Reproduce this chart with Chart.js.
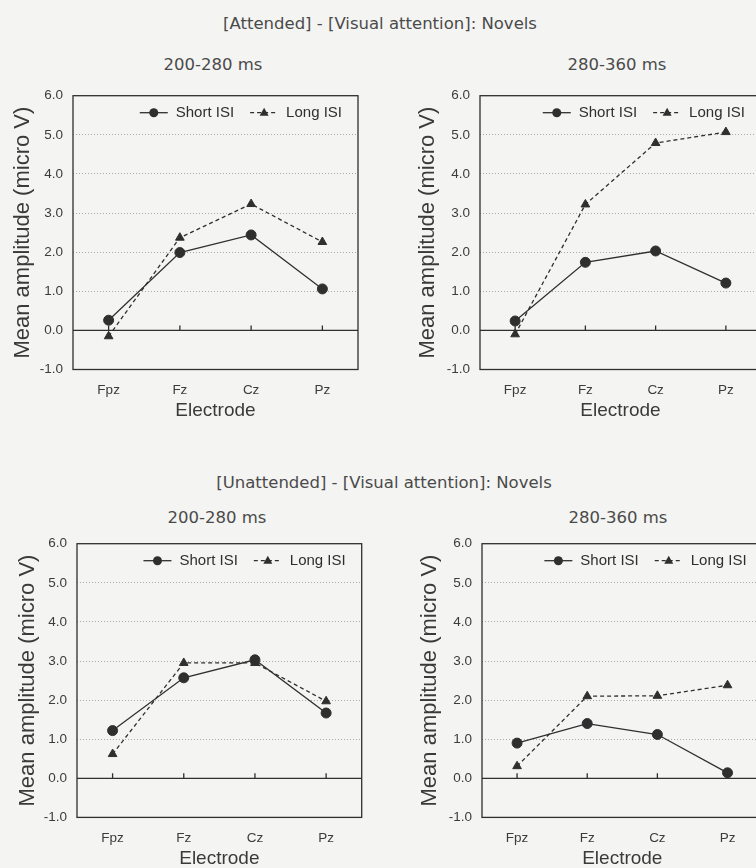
<!DOCTYPE html>
<html>
<head>
<meta charset="utf-8">
<script src="https://cdn.jsdelivr.net/npm/chart.js@4.4.1/dist/chart.umd.min.js"></script>
<style>
body{margin:0;width:756px;height:868px;overflow:hidden;background:#f4f4f2;position:relative}
.t{position:absolute;color:#4a4a4a;font-family:"DejaVu Sans";font-size:16.5px;white-space:nowrap;transform:translate(-50%,-50%)}
canvas{position:absolute}
</style>
</head>
<body>
<div class="t" style="left:380px;top:23px">[Attended] - [Visual attention]: Novels</div>
<div class="t" style="left:213px;top:64px">200-280 ms</div>
<div class="t" style="left:617px;top:64px">280-360 ms</div>
<div class="t" style="left:384px;top:482px">[Unattended] - [Visual attention]: Novels</div>
<div class="t" style="left:217px;top:517px">200-280 ms</div>
<div class="t" style="left:618px;top:517px">280-360 ms</div>

<script>
const electrodes = ['Fpz', 'Fz', 'Cz', 'Pz']
const seriesNames = ['Short ISI', 'Long ISI']
const yTicks = [-1, 0, 1, 2, 3, 4, 5, 6]

// [Attended] - [Visual attention]
const att200Short = [0.26, 1.99, 2.44, 1.06]
const att200Long = [-0.15, 2.37, 3.23, 2.26]
const att280Short = [0.24, 1.74, 2.03, 1.21]
const att280Long = [-0.10, 3.22, 4.79, 5.07]

// [Unattended] - [Visual attention]
const unatt200Short = [1.22, 2.57, 3.03, 1.67]
const unatt200Long = [0.62, 2.95, 2.95, 1.97]
const unatt280Short = [0.90, 1.40, 1.12, 0.14]
const unatt280Long = [0.31, 2.10, 2.11, 2.38]

Chart.defaults.font.family = "'Liberation Sans', Arial, sans-serif"
Chart.defaults.color = '#3c3c3c'

const ink = '#2f2f2f'

// box frame, zero line and the little tick marks on it
const framePlugin = {
  id: 'frame',
  beforeDatasetsDraw(chart) {
    let ctx = chart.ctx
    let a = chart.chartArea
    let y0 = chart.scales.y.getPixelForValue(0)
    ctx.save()
    ctx.strokeStyle = ink
    ctx.lineWidth = 1.3
    ctx.strokeRect(a.left, a.top, a.right - a.left, a.bottom - a.top)
    ctx.beginPath()
    ctx.moveTo(a.left, y0)
    ctx.lineTo(a.right, y0)
    electrodes.forEach((e, i) => {
      let x = chart.scales.x.getPixelForValue(i)
      ctx.moveTo(x, y0)
      ctx.lineTo(x, y0 - 5)
    })
    ctx.stroke()
    ctx.restore()
  }
}

// legend inside the plot: line + marker + text
const legendPlugin = {
  id: 'inlegend',
  afterDraw(chart) {
    let ctx = chart.ctx
    let a = chart.chartArea
    let y = a.top + 17
    ctx.save()
    ctx.font = "15px 'Liberation Sans', Arial, sans-serif"
    ctx.textBaseline = 'middle'
    ctx.fillStyle = ink
    ctx.strokeStyle = ink
    ctx.lineWidth = 1.3
    let x = a.right - 16
    let items = chart.data.datasets.slice().reverse()
    items.forEach(ds => {
      let w = ctx.measureText(ds.label).width
      ctx.fillText(ds.label, x - w, y)
      x -= w + 8
      ctx.setLineDash(ds.borderDash || [])
      ctx.beginPath()
      ctx.moveTo(x - 28, y)
      ctx.lineTo(x, y)
      ctx.stroke()
      ctx.setLineDash([])
      let mx = x - 14
      ctx.beginPath()
      if (ds.pointStyle == 'triangle') {
        ctx.moveTo(mx, y - 5)
        ctx.lineTo(mx + 4.5, y + 3)
        ctx.lineTo(mx - 4.5, y + 3)
        ctx.closePath()
      } else {
        ctx.arc(mx, y, 4.5, 0, Math.PI * 2)
      }
      ctx.fill()
      x -= 28 + 16
    })
    ctx.restore()
  }
}

function makeChart(short, long, b) {
  let cv = document.createElement('canvas')
  cv.width = b.w
  cv.height = b.h
  cv.style.left = b.x0 + 'px'
  cv.style.top = b.y0 + 'px'
  document.body.appendChild(cv)

  return new Chart(cv.getContext('2d'), {
    type: 'line',
    data: {
      labels: electrodes,
      datasets: [
        {
          label: seriesNames[0],
          data: short,
          borderColor: ink,
          backgroundColor: ink,
          borderWidth: 1.3,
          pointStyle: 'circle',
          pointRadius: 5,
          pointBorderWidth: 1,
          tension: 0
        },
        {
          label: seriesNames[1],
          data: long,
          borderColor: ink,
          backgroundColor: ink,
          borderWidth: 1.3,
          borderDash: [4, 3],
          pointStyle: 'triangle',
          pointRadius: 5,
          pointBorderWidth: 1,
          tension: 0
        }
      ]
    },
    options: {
      responsive: false,
      animation: false,
      clip: false,
      layout: {
        padding: { left: 0, top: b.T - b.y0, right: b.x0 + b.w - b.R, bottom: 0 }
      },
      plugins: { legend: { display: false }, tooltip: { enabled: false } },
      scales: {
        x: {
          offset: true,
          grid: { display: false, drawTicks: false },
          border: { display: false },
          ticks: { font: { size: 13.5 }, padding: 13, color: '#3c3c3c' },
          title: { display: true, text: 'Electrode', font: { size: 19 }, color: '#3a3a3a', padding: { top: 0, bottom: 4.6 } },
          afterFit(s) { s.height = b.y0 + b.h - b.B }
        },
        y: {
          min: -1,
          max: 6,
          afterBuildTicks(s) { s.ticks = yTicks.map(v => ({ value: v })) },
          grid: {
            drawTicks: false,
            lineWidth: 1,
            color: c => (c.tick && c.tick.value > 0 && c.tick.value < 6) ? '#a8a8a8' : 'rgba(0,0,0,0)'
          },
          border: { display: false, dash: [1, 2] },
          ticks: { font: { size: 13.5 }, padding: 10, color: '#3c3c3c', callback: v => v.toFixed(1) },
          title: { display: true, text: 'Mean amplitude (micro V)', font: { size: 22 }, color: '#3a3a3a', padding: { top: b.titleX - b.x0 - 13.2, bottom: 0 } },
          afterFit(s) { s.width = b.L - b.x0 }
        }
      }
    },
    plugins: [framePlugin, legendPlugin]
  })
}

makeChart(att200Short, att200Long, { x0: 0, y0: 75, w: 375, h: 352, L: 73, R: 358, T: 95.7, B: 369.5, titleX: 23 })
makeChart(att280Short, att280Long, { x0: 405, y0: 75, w: 370, h: 352, L: 480, R: 761, T: 95.7, B: 369.5, titleX: 428 })
makeChart(unatt200Short, unatt200Long, { x0: 0, y0: 523.3, w: 375, h: 352, L: 77, R: 361.7, T: 544, B: 817.7, titleX: 28 })
makeChart(unatt280Short, unatt280Long, { x0: 405, y0: 523.3, w: 370, h: 352, L: 482, R: 762.6, T: 544, B: 817.7, titleX: 430 })
</script>
</body>
</html>
